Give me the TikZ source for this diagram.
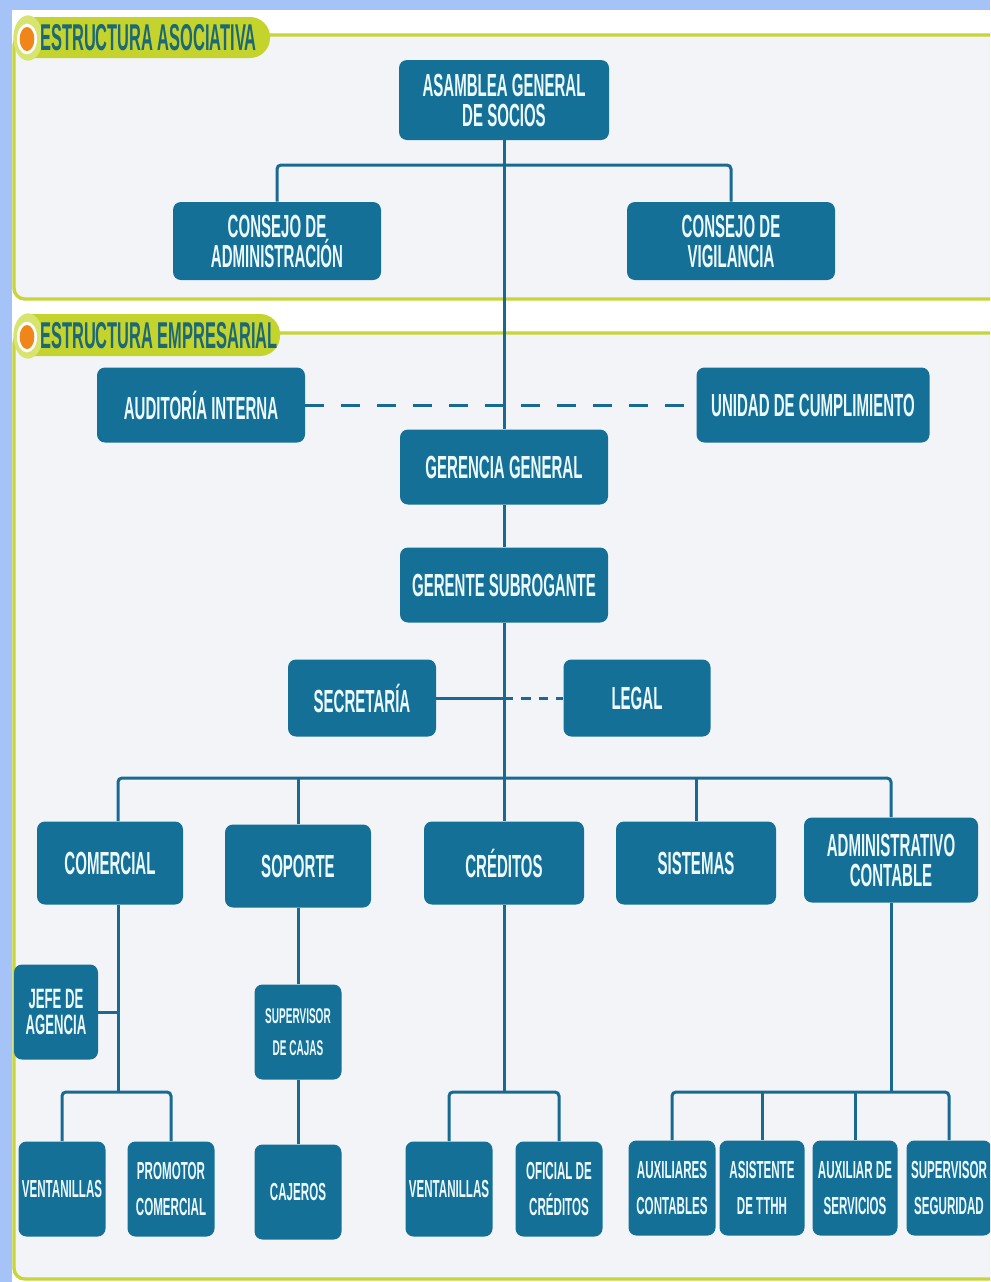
\documentclass[tikz,border=0pt]{standalone}
\usepackage{fontspec}
\newfontfamily\cnd[FakeStretch=0.47]{Liberation Sans Bold}
\newfontfamily\hdf[FakeStretch=0.44]{Liberation Sans Bold}
\usetikzlibrary{calc}

\definecolor{boxblue}{RGB}{20,112,150}
\definecolor{linkblue}{RGB}{24,106,146}
\definecolor{framegreen}{RGB}{198,213,58}
\definecolor{pillgreen}{RGB}{196,212,44}
\definecolor{pillring}{RGB}{216,228,112}
\definecolor{dotorange}{RGB}{240,134,26}
\definecolor{panelgray}{RGB}{243,244,247}
\definecolor{edgeblue}{RGB}{165,195,246}
\definecolor{headtext}{RGB}{28,104,118}
\definecolor{labelwhite}{RGB}{236,250,255}

\tikzset{
  wh/.style 2 args={minimum width=#1*0.75pt, minimum height=#2*0.75pt},
  box/.style={fill=boxblue, rounded corners=6pt, text=labelwhite, align=center,
    inner sep=0pt, font=\cnd\fontsize{24}{22.5}\selectfont},
  smalltxt/.style={font=\cnd\fontsize{18.5}{27}\selectfont},
  conn/.style={draw=linkblue, line width=2.25pt, rounded corners=3pt},
  dashlong/.style={conn, dash pattern=on 14pt off 13pt},
  dashshort/.style={conn, dash pattern=on 7pt off 6pt},
  panel/.style={draw=framegreen, line width=2.5pt, fill=panelgray, rounded corners=8pt},
  pill/.style={fill=pillgreen, rounded corners=15pt},
  headlabel/.style={anchor=west, text=headtext, inner sep=0pt, font=\hdf\fontsize{28}{28}\selectfont},
}

\begin{document}
\begin{tikzpicture}[x=0.75pt, y=-0.75pt]
\useasboundingbox (0,0) rectangle (990,1282);
\begin{scope}
\clip (0,0) rectangle (990,1282);

% page background and side strips
\fill[white] (0,0) rectangle (990,1282);
\fill[edgeblue] (0,0) rectangle (990,10);
\fill[edgeblue] (0,0) rectangle (12,1282);

% section panels
\draw[panel] (14,35) rectangle (1010,299);
\draw[panel] (14,333) rectangle (1010,1279);

% section headers
\fill[pill] (14,17) rectangle (270,58);
\fill[pillring] (28,38) ellipse [x radius=11pt, y radius=17pt];
\fill[white] (27,39) ellipse [x radius=7.5pt, y radius=11.5pt];
\fill[dotorange] (27,39) ellipse [x radius=5.5pt, y radius=9pt];
\node[headlabel] (h1) at (40,38) {ESTRUCTURA ASOCIATIVA};

\fill[pill] (14,314) rectangle (280,356);
\fill[pillring] (28,336) ellipse [x radius=11pt, y radius=17pt];
\fill[white] (27,337) ellipse [x radius=7.5pt, y radius=11.5pt];
\fill[dotorange] (27,337) ellipse [x radius=5.5pt, y radius=9pt];
\node[headlabel] (h2) at (40,336) {ESTRUCTURA EMPRESARIAL};

% governing bodies
\node[box, wh={210}{80}] (asam) at (504,100) {ASAMBLEA GENERAL\\DE SOCIOS};
\node[box, wh={208}{78}] (cadm) at (277,241) {CONSEJO DE\\ADMINISTRACIÓN};
\node[box, wh={208}{78}] (cvig) at (731,241) {CONSEJO DE\\VIGILANCIA};

% management
\node[box, wh={208}{75}] (aud) at (201,405) {AUDITORÍA INTERNA};
\node[box, wh={233}{75}] (uni) at (813,405) {UNIDAD DE CUMPLIMIENTO};
\node[box, wh={208}{75}] (ger) at (504,467) {GERENCIA GENERAL};
\node[box, wh={208}{75}] (sub) at (504,585) {GERENTE SUBROGANTE};
\node[box, wh={148}{77}] (sec) at (362,698) {SECRETARÍA};
\node[box, wh={147}{77}] (leg) at (637,698) {LEGAL};

% departments
\node[box, wh={146}{83}] (com) at (110,863) {COMERCIAL};
\node[box, wh={146}{83}] (sop) at (298,866) {SOPORTE};
\node[box, wh={160}{83}] (cre) at (504,863) {CRÉDITOS};
\node[box, wh={160}{83}] (sis) at (696,863) {SISTEMAS};
\node[box, wh={174}{85}] (adm) at (891,860) {ADMINISTRATIVO\\CONTABLE};

% units
\node[box, wh={84}{95}, font=\cnd\fontsize{21}{20}\selectfont] (jefe) at (56,1012) {JEFE DE\\AGENCIA};
\node[box, wh={87}{95}, font=\cnd\fontsize{16}{24}\selectfont] (supc) at (298,1032) {SUPERVISOR\\DE CAJAS};
\node[box, smalltxt, wh={87}{95}] (v1) at (62,1189) {VENTANILLAS};
\node[box, smalltxt, wh={87}{95}] (prom) at (171,1189) {PROMOTOR\\COMERCIAL};
\node[box, smalltxt, wh={87}{95}] (caj) at (298,1192) {CAJEROS};
\node[box, smalltxt, wh={87}{95}] (v2) at (449,1189) {VENTANILLAS};
\node[box, smalltxt, wh={87}{95}] (ofi) at (559,1189) {OFICIAL DE\\CRÉDITOS};
\node[box, smalltxt, wh={87}{95}] (aux) at (672,1188) {AUXILIARES\\CONTABLES};
\node[box, smalltxt, wh={85}{95}] (asis) at (762,1188) {ASISTENTE\\DE TTHH};
\node[box, smalltxt, wh={85}{95}] (auxs) at (855,1188) {AUXILIAR DE\\SERVICIOS};
\node[box, smalltxt, wh={85}{95}] (sups) at (949,1188) {SUPERVISOR\\SEGURIDAD};

% junction points
\coordinate (j1) at (504,165);
\coordinate (j3) at (504,698);
\coordinate (bus) at (504,778);
\coordinate (k1) at (118,1092);
\coordinate (k2) at (504,1092);
\coordinate (k3) at (891,1092);

% main line of authority
\draw[conn] (asam.south) -- (ger.north);
\draw[conn] (ger.south) -- (sub.north);
\draw[conn] (sub.south) -- (cre.north);
\draw[conn] (cadm.north) |- (j1) -| (cvig.north);

% advisory links
\draw[dashlong] (aud.east) -- (uni.west);
\draw[conn] (sec.east) -- (j3);
\draw[dashshort] (j3) -- (leg.west);

% department bus
\draw[conn] ($(com.north)+(8,0)$) |- (bus) -| (adm.north);
\draw[conn] (sop.north) -- (sop.north |- bus);
\draw[conn] (sis.north) -- (sis.north |- bus);

% comercial
\draw[conn] ($(com.south)+(8,0)$) -- (k1);
\draw[conn] (jefe.east) -- (jefe.east -| k1);
\draw[conn] (v1.north) |- (k1) -| (prom.north);

% soporte
\draw[conn] (sop.south) -- (supc.north);
\draw[conn] (supc.south) -- (caj.north);

% creditos
\draw[conn] (cre.south) -- (k2);
\draw[conn] (v2.north) |- (k2) -| (ofi.north);

% administrativo contable
\draw[conn] (adm.south) -- (k3);
\draw[conn] (aux.north) |- (k3) -| (sups.north);
\draw[conn] (asis.north) -- (asis.north |- k3);
\draw[conn] (auxs.north) -- (auxs.north |- k3);

\end{scope}
\end{tikzpicture}
\end{document}
